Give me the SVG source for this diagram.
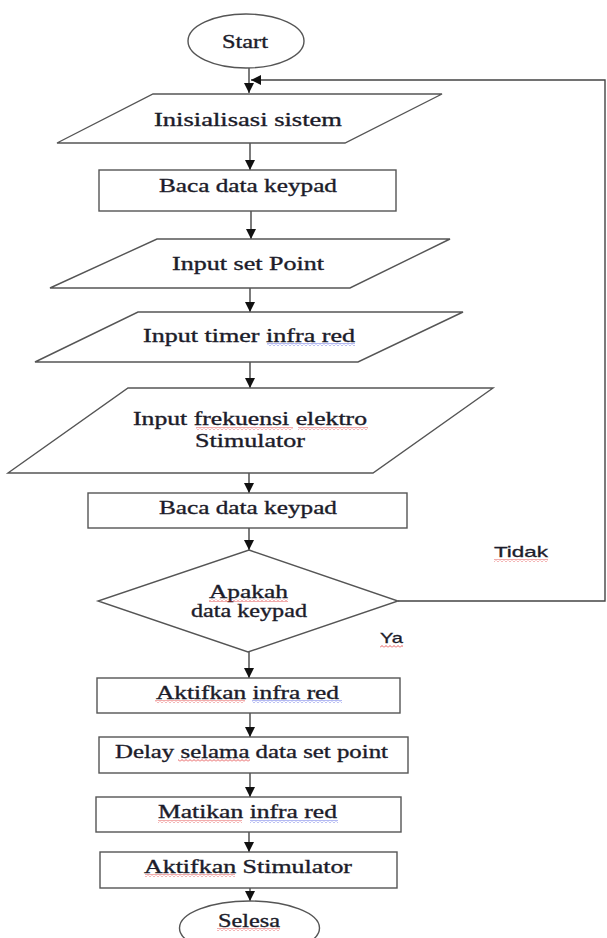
<svg xmlns="http://www.w3.org/2000/svg" width="607" height="938" viewBox="0 0 607 938">
<style>
.s{fill:#fff;stroke:#555;stroke-width:1.4}
.c{fill:none;stroke:#444;stroke-width:1.4}
.t{font-family:"Liberation Serif","Times New Roman",serif;font-size:18.5px;fill:#1c1c2a;stroke:#1c1c2a;stroke-width:0.35}
.l{font-family:"Liberation Sans",Arial,sans-serif;font-size:15px;fill:#1c1c2a;stroke:#1c1c2a;stroke-width:0.3}
</style>
<defs>
<marker id="ah" markerUnits="userSpaceOnUse" markerWidth="10" markerHeight="10" refX="10" refY="5" orient="auto">
<path d="M0,0 L10,5 L0,10 z" fill="#111"/>
</marker>
<pattern id="wr" patternUnits="userSpaceOnUse" width="4" height="3">
<path d="M0 2.5 L2 0.5 L4 2.5" fill="none" stroke="#e03030" stroke-width="0.8"/>
</pattern>
<pattern id="wb" patternUnits="userSpaceOnUse" width="4" height="3">
<path d="M0 2.5 L2 0.5 L4 2.5" fill="none" stroke="#4050e0" stroke-width="0.8"/>
</pattern>
</defs>
<rect width="607" height="938" fill="#fff"/>
<g id="connectors">
<path class="c" d="M249 68 V93" marker-end="url(#ah)"/>
<path class="c" d="M398 601 H605 V80 H251" marker-end="url(#ah)"/>
<path class="c" d="M250 143 V170" marker-end="url(#ah)"/>
<path class="c" d="M251 211 V239" marker-end="url(#ah)"/>
<path class="c" d="M250 288 V312" marker-end="url(#ah)"/>
<path class="c" d="M250 362 V388" marker-end="url(#ah)"/>
<path class="c" d="M249 473 V493" marker-end="url(#ah)"/>
<path class="c" d="M249 528 V550" marker-end="url(#ah)"/>
<path class="c" d="M249 652 V678" marker-end="url(#ah)"/>
<path class="c" d="M250 713 V737" marker-end="url(#ah)"/>
<path class="c" d="M250 773 V797" marker-end="url(#ah)"/>
<path class="c" d="M249 832 V852" marker-end="url(#ah)"/>
<path class="c" d="M250 888 V901" marker-end="url(#ah)"/>
</g>
<g id="start">
<ellipse class="s" cx="246" cy="41" rx="58" ry="27"/>
<text class="t" x="222" y="48" textLength="46" lengthAdjust="spacingAndGlyphs">Start</text>
</g>
<g id="init">
<polygon class="s" points="153,94 442,94 345,143 57,143"/>
<text class="t" x="154" y="126" textLength="188" lengthAdjust="spacingAndGlyphs">Inisialisasi sistem</text>
</g>
<g id="baca1">
<rect class="s" x="99" y="170" width="297" height="41"/>
<text class="t" x="159" y="192" textLength="178" lengthAdjust="spacingAndGlyphs">Baca data keypad</text>
</g>
<g id="setpoint">
<polygon class="s" points="157,239 450,239 350,288 50,288"/>
<text class="t" x="172" y="270" textLength="152" lengthAdjust="spacingAndGlyphs">Input set Point</text>
</g>
<g id="timer">
<polygon class="s" points="138,312 463,312 358,362 35,362"/>
<text class="t" x="143" y="342" textLength="212" lengthAdjust="spacingAndGlyphs">Input timer infra red</text>
<rect x="267" y="343" width="88" height="3" fill="url(#wb)"/>
</g>
<g id="frek">
<polygon class="s" points="128,388 493,388 373,473 8,473"/>
<text class="t" x="133" y="425" textLength="234" lengthAdjust="spacingAndGlyphs">Input frekuensi elektro</text>
<text class="t" x="195" y="447" textLength="110" lengthAdjust="spacingAndGlyphs">Stimulator</text>
<rect x="196" y="427" width="97" height="3" fill="url(#wr)"/>
<rect x="298" y="427" width="70" height="3" fill="url(#wr)"/>
</g>
<g id="baca2">
<rect class="s" x="88" y="493" width="319" height="35"/>
<text class="t" x="159" y="514" textLength="178" lengthAdjust="spacingAndGlyphs">Baca data keypad</text>
</g>
<g id="decision">
<polygon class="s" points="249,550 398,601 248,652 98,601"/>
<text class="t" x="209" y="598" textLength="79" lengthAdjust="spacingAndGlyphs">Apakah</text>
<text class="t" x="191" y="617" textLength="116" lengthAdjust="spacingAndGlyphs">data keypad</text>
<rect x="209" y="599" width="79" height="3" fill="url(#wr)"/>
</g>
<g id="labels">
<text class="l" x="494" y="557" textLength="54" lengthAdjust="spacingAndGlyphs">Tidak</text>
<rect x="494" y="559" width="54" height="3" fill="url(#wr)"/>
<text class="l" x="380" y="643" textLength="23" lengthAdjust="spacingAndGlyphs">Ya</text>
<rect x="380" y="645" width="23" height="3" fill="url(#wr)"/>
</g>
<g id="aktif-ir">
<rect class="s" x="97" y="678" width="303" height="35"/>
<text class="t" x="156" y="699" textLength="183" lengthAdjust="spacingAndGlyphs">Aktifkan infra red</text>
<rect x="155" y="700" width="90" height="3" fill="url(#wr)"/>
<rect x="252" y="700" width="90" height="3" fill="url(#wb)"/>
</g>
<g id="delay">
<rect class="s" x="99" y="737" width="309" height="36"/>
<text class="t" x="115" y="758" textLength="273" lengthAdjust="spacingAndGlyphs">Delay selama data set point</text>
<rect x="178" y="759" width="72" height="3" fill="url(#wr)"/>
</g>
<g id="matikan">
<rect class="s" x="96" y="797" width="305" height="35"/>
<text class="t" x="158" y="818" textLength="179" lengthAdjust="spacingAndGlyphs">Matikan infra red</text>
<rect x="158" y="820" width="84" height="3" fill="url(#wr)"/>
<rect x="250" y="820" width="88" height="3" fill="url(#wb)"/>
</g>
<g id="aktif-stim">
<rect class="s" x="100" y="852" width="297" height="36"/>
<text class="t" x="144" y="873" textLength="208" lengthAdjust="spacingAndGlyphs">Aktifkan Stimulator</text>
<rect x="145" y="874" width="90" height="3" fill="url(#wr)"/>
</g>
<g id="selesa">
<ellipse class="s" cx="249.5" cy="928" rx="70" ry="27"/>
<text class="t" x="218" y="927" textLength="62" lengthAdjust="spacingAndGlyphs">Selesa</text>
<rect x="217" y="928" width="63" height="3" fill="url(#wr)"/>
</g>
</svg>
